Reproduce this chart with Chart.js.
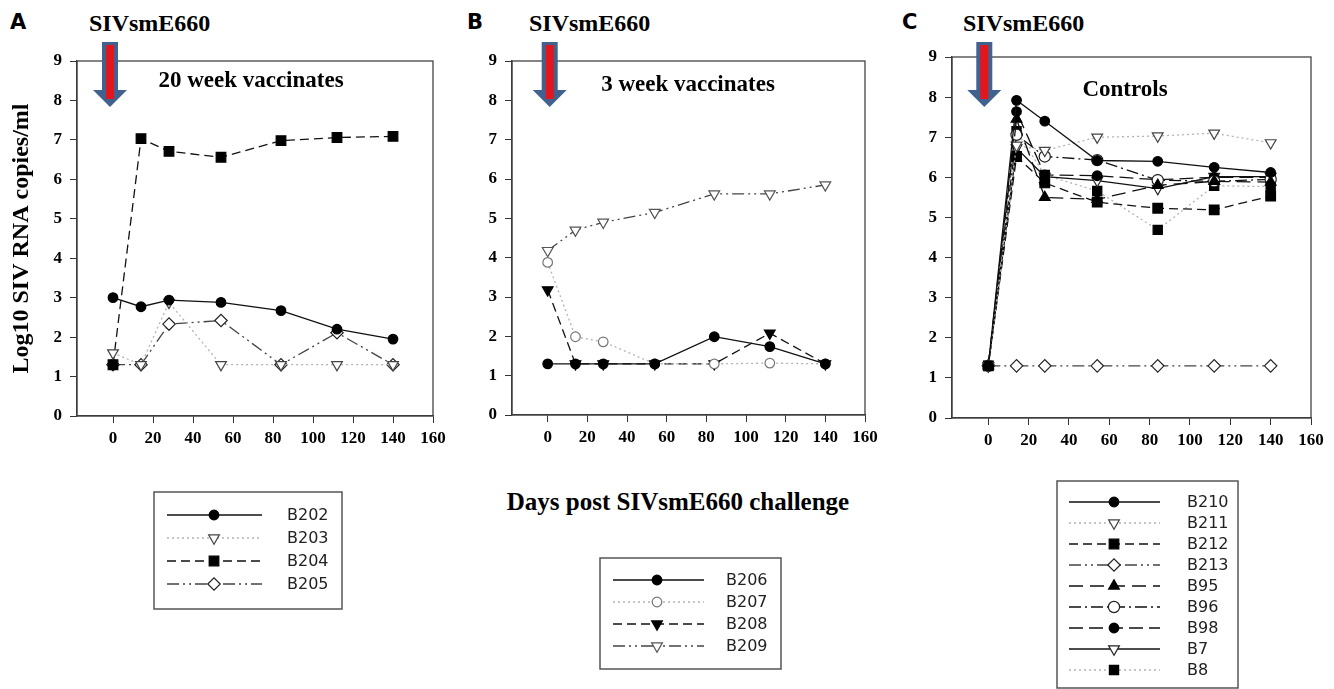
<!DOCTYPE html>
<html>
<head>
<meta charset="utf-8">
<script src="https://cdn.jsdelivr.net/npm/chart.js@4.4.1/dist/chart.umd.min.js"></script>
<style>
body { margin: 0; background: #fff; width: 1334px; height: 689px; position: relative; overflow: hidden; }
canvas { position: absolute; top: 0; }
.lbl { position: absolute; white-space: nowrap; color: #000; }
.letter { font: bold 21px "DejaVu Sans"; line-height: 21px; }
.virus { font: bold 24px "Liberation Serif"; line-height: 24px; }
.xtitle { font: bold 25px "Liberation Serif"; line-height: 25px; transform: translateX(-50%); }
</style>
</head>
<body>
<div class="lbl letter" style="left:10px;top:12px">A</div>
<div class="lbl virus" style="left:89px;top:11px">SIVsmE660</div>
<div class="lbl letter" style="left:467px;top:12px">B</div>
<div class="lbl virus" style="left:529px;top:11px">SIVsmE660</div>
<div class="lbl letter" style="left:902px;top:12px">C</div>
<div class="lbl virus" style="left:963px;top:11px">SIVsmE660</div>
<div class="lbl xtitle" style="left:678px;top:489px">Days post SIVsmE660 challenge</div>

<canvas id="chartA" width="460" height="689" style="left:0px"></canvas>
<canvas id="chartB" width="450" height="689" style="left:440px"></canvas>
<canvas id="chartC" width="444" height="689" style="left:890px"></canvas>

<script>
// sampling days and axis ticks
const days = [0, 14, 28, 54, 84, 112, 140];
const xTickValues = [0, 20, 40, 60, 80, 100, 120, 140, 160];

// A - 20 week vaccinates
const b202 = [3.0, 2.77, 2.94, 2.88, 2.67, 2.2, 1.95];
const b203 = [1.6, 1.3, 2.88, 1.3, 1.3, 1.3, 1.3];
const b204 = [1.3, 7.03, 6.71, 6.56, 6.98, 7.06, 7.09];
const b205 = [1.3, 1.3, 2.33, 2.42, 1.3, 2.11, 1.3];

// B - 3 week vaccinates
const b206 = [1.3, 1.3, 1.3, 1.3, 1.99, 1.74, 1.3];
const b207 = [3.88, 1.99, 1.86, 1.3, 1.3, 1.32, 1.3];
const b208 = [3.18, 1.3, 1.3, 1.3, 1.3, 2.08, 1.3];
const b209 = [4.18, 4.7, 4.9, 5.15, 5.62, 5.62, 5.85];

// C - controls
const b210 = [1.3, 7.92, 7.4, 6.42, 6.4, 6.25, 6.12];
const b211 = [1.3, 6.8, 6.67, 7.0, 7.03, 7.1, 6.86];
const b212 = [1.3, 6.52, 5.86, 5.38, 5.23, 5.19, 5.53];
const b213 = [1.3, 1.3, 1.3, 1.3, 1.3, 1.3, 1.3];
const b95 = [1.3, 7.45, 5.5, 5.45, 5.8, 5.9, 5.88];
const b96 = [1.3, 7.06, 6.52, 6.43, 5.93, 5.9, 5.95];
const b98 = [1.3, 7.64, 6.06, 6.04, 5.94, 6.0, 6.0];
const b7 = [1.3, 6.73, 6.02, 5.92, 5.72, 6.02, 6.02];
const b8 = [1.3, 7.15, 6.06, 5.66, 4.69, 5.79, 5.77];

// line / marker styles
const styles = {
    solidDot:      { dash: [], line: '#111', shape: 'circle', rot: 0, fill: '#000', edge: '#000', r: 4.8 },
    dotTriDown:    { dash: [2, 3], line: '#b3b3b3', shape: 'triangle', rot: 180, fill: '#fff', edge: '#444', r: 6.2 },
    dashSquare:    { dash: [9, 5], line: '#111', shape: 'rect', rot: 0, fill: '#000', edge: '#000', r: 6.8 },
    dashDotDiamond:{ dash: [12, 4, 2, 4, 2, 4], line: '#444', shape: 'rectRot', rot: 0, fill: '#fff', edge: '#222', r: 6.2 },
    dotCircle:     { dash: [2, 3], line: '#b3b3b3', shape: 'circle', rot: 0, fill: '#fff', edge: '#777', r: 4.8 },
    dashTriDown:   { dash: [9, 5], line: '#111', shape: 'triangle', rot: 180, fill: '#000', edge: '#000', r: 6.2 },
    dashDotTriDown:{ dash: [12, 4, 2, 4, 2, 4], line: '#444', shape: 'triangle', rot: 180, fill: '#fff', edge: '#555', r: 6.2 },
    longDashTriUp: { dash: [14, 7], line: '#111', shape: 'triangle', rot: 0, fill: '#000', edge: '#000', r: 6.2 },
    dashDotCircle: { dash: [12, 4, 2, 4], line: '#111', shape: 'circle', rot: 0, fill: '#fff', edge: '#222', r: 5.6 },
    longDashDot:   { dash: [14, 6], line: '#111', shape: 'circle', rot: 0, fill: '#000', edge: '#000', r: 4.8 },
    solidTriDown:  { dash: [], line: '#111', shape: 'triangle', rot: 180, fill: '#fff', edge: '#222', r: 6.2 },
    dotSquare:     { dash: [2, 3], line: '#b3b3b3', shape: 'rect', rot: 0, fill: '#000', edge: '#000', r: 6.5 }
};

function makeDataset(label, values, st) {
    return {
        label: label,
        data: days.map((d, i) => ({ x: d, y: values[i] })),
        borderColor: st.line,
        borderWidth: 1.3,
        borderDash: st.dash,
        pointStyle: st.shape,
        rotation: st.rot,
        pointRadius: st.r,
        pointBackgroundColor: st.fill,
        pointBorderColor: st.edge,
        pointBorderWidth: 1.2,
        tension: 0,
        fill: false
    };
}

function drawMarker(ctx, st, x, y) {
    if (Chart.helpers && Chart.helpers.drawPoint) {
        ctx.fillStyle = st.fill;
        ctx.strokeStyle = st.edge;
        ctx.lineWidth = 1.2;
        ctx.setLineDash([]);
        Chart.helpers.drawPoint(ctx, { pointStyle: st.shape, rotation: st.rot, radius: st.r, borderWidth: 1.2 }, x, y);
    } else {
        ctx.beginPath();
        ctx.arc(x, y, st.r, 0, Math.PI * 2);
        ctx.fillStyle = st.fill;
        ctx.fill();
        ctx.strokeStyle = st.edge;
        ctx.stroke();
    }
}

// arrow, inner note, frame and the boxed legend
const panelDecor = {
    id: 'panelDecor',
    afterDraw(chart, args, opts) {
        const ctx = chart.ctx;
        const area = chart.chartArea;
        ctx.save();

        // frame top/right
        ctx.strokeStyle = '#444';
        ctx.lineWidth = 1.3;
        ctx.setLineDash([]);
        ctx.strokeRect(area.left, area.top, area.right - area.left, area.bottom - area.top);

        // note
        ctx.fillStyle = '#000';
        ctx.font = 'bold 23px "Liberation Serif"';
        ctx.textAlign = 'center';
        ctx.textBaseline = 'alphabetic';
        ctx.fillText(opts.note, opts.noteX, opts.noteY);

        // challenge arrow
        const cx = chart.scales.x.getPixelForValue(0) + opts.arrowDx;
        ctx.fillStyle = '#41628f';
        ctx.beginPath();
        ctx.moveTo(cx - 8, 42);
        ctx.lineTo(cx + 8, 42);
        ctx.lineTo(cx + 8, 90);
        ctx.lineTo(cx + 17, 90);
        ctx.lineTo(cx, 107);
        ctx.lineTo(cx - 17, 90);
        ctx.lineTo(cx - 8, 90);
        ctx.closePath();
        ctx.fill();
        ctx.fillStyle = '#e3161d';
        ctx.fillRect(cx - 4, 45, 8, 54);

        // legend box
        const lg = opts.legend;
        ctx.strokeStyle = '#555';
        ctx.lineWidth = 1.5;
        ctx.strokeRect(lg.x, lg.y, lg.w, lg.h);
        ctx.font = '16px "DejaVu Sans"';
        ctx.textAlign = 'left';
        ctx.textBaseline = 'middle';
        lg.items.forEach((it, i) => {
            const y = lg.first + i * lg.step;
            ctx.strokeStyle = it.style.line;
            ctx.lineWidth = 1.3;
            ctx.setLineDash(it.style.dash);
            ctx.beginPath();
            ctx.moveTo(lg.x1, y);
            ctx.lineTo(lg.x2, y);
            ctx.stroke();
            drawMarker(ctx, it.style, lg.mark, y);
            ctx.fillStyle = '#222';
            ctx.fillText(it.label, lg.text, y + 1);
        });
        ctx.restore();
    }
};

function makeChart(id, series, cfg) {
    const datasets = series.map(s => makeDataset(s.label, s.values, s.style));
    return new Chart(document.getElementById(id), {
        type: 'line',
        data: { datasets: datasets },
        plugins: [panelDecor],
        options: {
            responsive: false,
            animation: false,
            layout: { padding: { top: cfg.top, left: 0, right: cfg.padRight, bottom: 689 - cfg.bottom - 40 } },
            plugins: {
                legend: { display: false },
                tooltip: { enabled: false },
                panelDecor: {
                    note: cfg.note, noteX: cfg.noteX, noteY: cfg.noteY, arrowDx: cfg.arrowDx,
                    legend: Object.assign({}, cfg.legend, {
                        items: series.map(s => ({ label: s.label, style: s.style }))
                    })
                }
            },
            scales: {
                x: {
                    type: 'linear',
                    min: -18,
                    max: 160,
                    afterBuildTicks: scale => { scale.ticks = xTickValues.map(v => ({ value: v })); },
                    afterFit: scale => { scale.height = 40; },
                    grid: { drawOnChartArea: false, drawTicks: true, tickLength: 7, color: '#333' },
                    border: { display: true, color: '#333', width: 1.3 },
                    ticks: { color: '#000', padding: 5, maxRotation: 0, font: { family: 'Liberation Serif', weight: 'bold', size: 17 } }
                },
                y: {
                    min: 0,
                    max: 9,
                    afterFit: scale => { scale.width = cfg.yWidth; },
                    grid: { drawOnChartArea: false, drawTicks: true, tickLength: 7, color: '#333' },
                    border: { display: true, color: '#333', width: 1.3 },
                    ticks: { stepSize: 1, color: '#000', padding: 8, font: { family: 'Liberation Serif', weight: 'bold', size: 17 } },
                    title: {
                        display: cfg.yTitle,
                        text: 'Log10 SIV RNA copies/ml',
                        color: '#000',
                        padding: { top: 7, bottom: 0 },
                        font: { family: 'Liberation Serif', weight: 'bold', size: 24 }
                    }
                }
            }
        }
    });
}

makeChart('chartA', [
    { label: 'B202', values: b202, style: styles.solidDot },
    { label: 'B203', values: b203, style: styles.dotTriDown },
    { label: 'B204', values: b204, style: styles.dashSquare },
    { label: 'B205', values: b205, style: styles.dashDotDiamond }
], {
    top: 61, bottom: 416, padRight: 27, yWidth: 77, yTitle: true,
    note: '20 week vaccinates', noteX: 251, noteY: 87, arrowDx: -3,
    legend: { x: 154, y: 492, w: 188, h: 117, first: 515, step: 23, x1: 167, x2: 262, mark: 214, text: 287 }
});

makeChart('chartB', [
    { label: 'B206', values: b206, style: styles.solidDot },
    { label: 'B207', values: b207, style: styles.dotCircle },
    { label: 'B208', values: b208, style: styles.dashTriDown },
    { label: 'B209', values: b209, style: styles.dashDotTriDown }
], {
    top: 61, bottom: 415, padRight: 25, yWidth: 72, yTitle: false,
    note: '3 week vaccinates', noteX: 248, noteY: 91, arrowDx: 2,
    legend: { x: 160, y: 558, w: 181, h: 111, first: 580, step: 22, x1: 173, x2: 264, mark: 217, text: 286 }
});

makeChart('chartC', [
    { label: 'B210', values: b210, style: styles.solidDot },
    { label: 'B211', values: b211, style: styles.dotTriDown },
    { label: 'B212', values: b212, style: styles.dashSquare },
    { label: 'B213', values: b213, style: styles.dashDotDiamond },
    { label: 'B95', values: b95, style: styles.longDashTriUp },
    { label: 'B96', values: b96, style: styles.dashDotCircle },
    { label: 'B98', values: b98, style: styles.longDashDot },
    { label: 'B7', values: b7, style: styles.solidTriDown },
    { label: 'B8', values: b8, style: styles.dotSquare }
], {
    top: 57, bottom: 418, padRight: 23, yWidth: 62, yTitle: false,
    note: 'Controls', noteX: 235, noteY: 96, arrowDx: -4,
    legend: { x: 167, y: 481, w: 181, h: 207, first: 502, step: 21, x1: 179, x2: 270, mark: 224, text: 297 }
});
</script>
</body>
</html>
